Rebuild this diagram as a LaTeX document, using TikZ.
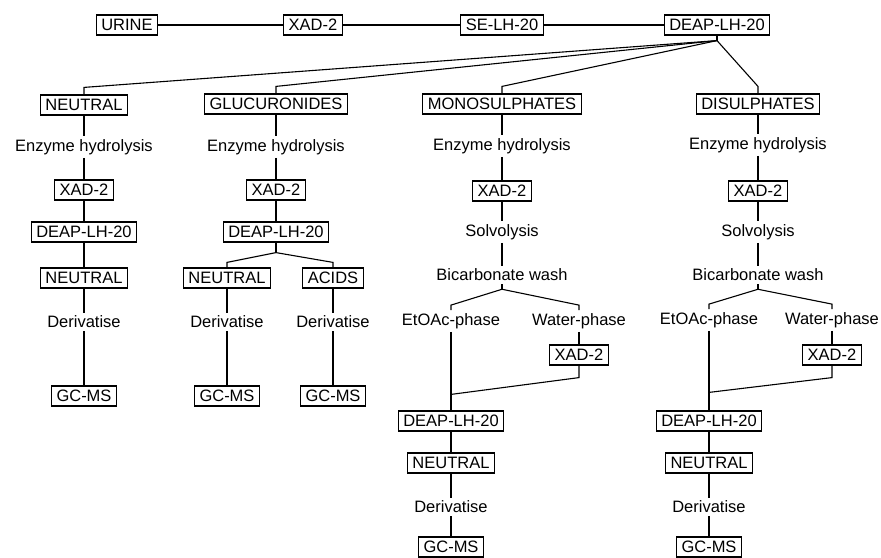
\documentclass[tikz,border=0pt]{standalone}
\usepackage{fontspec}
\setmainfont{Liberation Sans}
\usetikzlibrary{positioning,calc}

\begin{document}
\begin{tikzpicture}[
    x=1pt, y=-1pt,
    box/.style={
      draw,
      line width=1.2pt,
      minimum height=20pt,
      inner xsep=5pt,
      inner ysep=2pt,
      font=\fontsize{16.5}{18}\selectfont
    },
    proc/.style={
      inner sep=3pt,
      font=\fontsize{16.5}{18}\selectfont
    },
    link/.style={line width=1.1pt}
  ]
  \useasboundingbox (0,0) rectangle (881,557);

  % top row
  \node[box] (urine) at (127,25) {URINE};
  \node[box] (xad0) at (313,25) {XAD-2};
  \node[box] (se) at (502,25) {SE-LH-20};
  \node[box] (deap0) at (717,25) {DEAP-LH-20};

  % fractions
  \node[box] (neuA) at (84,105) {NEUTRAL};
  \node[box] (gluB) at (276,104) {GLUCURONIDES};
  \node[box] (monoC) at (502,104) {MONOSULPHATES};
  \node[box] (diD) at (758,104) {DISULPHATES};

  % neutral column
  \node[proc] (enzA) at (84,147) {Enzyme hydrolysis};
  \node[box] (xadA) at (84,190) {XAD-2};
  \node[box] (deapA) at (84,232) {DEAP-LH-20};
  \node[box] (neuA2) at (84,278) {NEUTRAL};
  \node[proc] (derA) at (84,322) {Derivatise};
  \node[box] (gcA) at (84,396) {GC-MS};

  % glucuronide column
  \node[proc] (enzB) at (276,147) {Enzyme hydrolysis};
  \node[box] (xadB) at (276,190) {XAD-2};
  \node[box] (deapB) at (276,232) {DEAP-LH-20};
  \node[box] (neuB) at (227,278) {NEUTRAL};
  \node[box] (acB) at (333,278) {ACIDS};
  \node[proc] (derB1) at (227,322) {Derivatise};
  \node[proc] (derB2) at (333,322) {Derivatise};
  \node[box] (gcB1) at (227,396) {GC-MS};
  \node[box] (gcB2) at (333,396) {GC-MS};

  % monosulphate column
  \node[proc] (enzC) at (502,146) {Enzyme hydrolysis};
  \node[box] (xadC) at (502,191) {XAD-2};
  \node[proc] (solC) at (502,232) {Solvolysis};
  \node[proc] (bicC) at (502,275) {Bicarbonate wash};
  \node[proc] (etC) at (451,321) {EtOAc-phase};
  \node[proc] (watC) at (579,321) {Water-phase};
  \node[box] (xadC2) at (579,355) {XAD-2};
  \node[box] (deapC) at (451,421) {DEAP-LH-20};
  \node[box] (neuC) at (451,463) {NEUTRAL};
  \node[proc] (derC) at (451,507) {Derivatise};
  \node[box] (gcC) at (451,547) {GC-MS};

  % disulphate column
  \node[proc] (enzD) at (758,145) {Enzyme hydrolysis};
  \node[box] (xadD) at (758,191) {XAD-2};
  \node[proc] (solD) at (758,232) {Solvolysis};
  \node[proc] (bicD) at (758,275) {Bicarbonate wash};
  \node[proc] (etD) at (709,320) {EtOAc-phase};
  \node[proc] (watD) at (832,320) {Water-phase};
  \node[box] (xadD2) at (832,355) {XAD-2};
  \node[box] (deapD) at (709,421) {DEAP-LH-20};
  \node[box] (neuD) at (709,463) {NEUTRAL};
  \node[proc] (derD) at (709,507) {Derivatise};
  \node[box] (gcD) at (709,547) {GC-MS};

  % junctions
  \coordinate (j0) at ([yshift=-5pt]deap0.south);
  \coordinate (jB) at ([yshift=-10pt]deapB.south);
  \coordinate (jC) at ([yshift=-5pt]bicC.south);
  \coordinate (jD) at ([yshift=-5pt]bicD.south);
  \coordinate (kC) at ([yshift=-12pt]xadC2.south);
  \coordinate (kD) at ([yshift=-12pt]xadD2.south);
  \coordinate (mC) at ([yshift=16pt]deapC.north);
  \coordinate (mD) at ([yshift=18pt]deapD.north);

  \draw[link] (urine) -- (xad0) -- (se) -- (deap0);
  \draw[link] (deap0.south) -- (j0);
  \foreach \n in {neuA,gluB,monoC,diD}
    \draw[link] (j0) -- ([yshift=7pt]\n.north) -- (\n.north);

  \draw[link] (neuA) -- (enzA) -- (xadA) -- (deapA) -- (neuA2) -- (derA) -- (gcA);

  \draw[link] (gluB) -- (enzB) -- (xadB) -- (deapB);
  \draw[link] (deapB.south) -- (jB);
  \foreach \n in {neuB,acB}
    \draw[link] (jB) -- ([yshift=5pt]\n.north) -- (\n.north);
  \draw[link] (neuB) -- (derB1) -- (gcB1);
  \draw[link] (acB) -- (derB2) -- (gcB2);

  \draw[link] (monoC) -- (enzC) -- (xadC) -- (solC) -- (bicC);
  \draw[link] (bicC.south) -- (jC);
  \foreach \n in {etC,watC}
    \draw[link] (jC) -- ([yshift=5pt]\n.north) -- (\n.north);
  \draw[link] (watC) -- (xadC2);
  \draw[link] (xadC2.south) -- (kC) -- (mC);
  \draw[link] (etC) -- (mC) -- (deapC);
  \draw[link] (deapC) -- (neuC) -- (derC) -- (gcC);

  \draw[link] (diD) -- (enzD) -- (xadD) -- (solD) -- (bicD);
  \draw[link] (bicD.south) -- (jD);
  \foreach \n in {etD,watD}
    \draw[link] (jD) -- ([yshift=5pt]\n.north) -- (\n.north);
  \draw[link] (watD) -- (xadD2);
  \draw[link] (xadD2.south) -- (kD) -- (mD);
  \draw[link] (etD) -- (mD) -- (deapD);
  \draw[link] (deapD) -- (neuD) -- (derD) -- (gcD);
\end{tikzpicture}
\end{document}
